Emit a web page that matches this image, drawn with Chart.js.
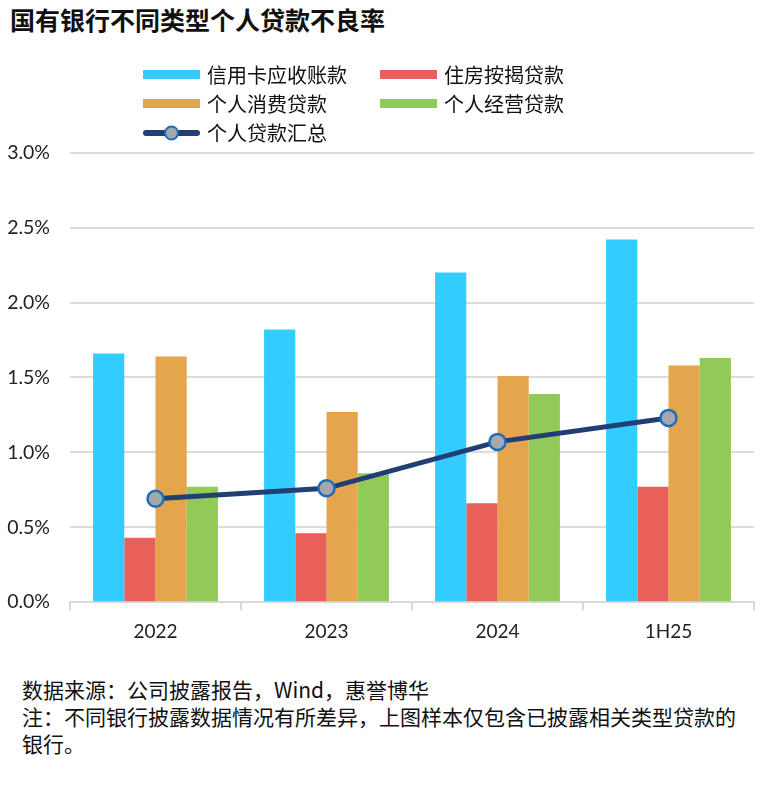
<!DOCTYPE html>
<html>
<head>
<meta charset="utf-8">
<script src="https://cdn.jsdelivr.net/npm/chart.js@4"></script>
<style>
  body { margin: 0; background: #fff; width: 780px; height: 795px; position: relative; overflow: hidden;
         font-family: "Noto Sans CJK SC", "Noto Sans", sans-serif; color: #111; }
  #title { position: absolute; left: 10px; top: 2px; font-size: 25px; font-weight: bold; line-height: 34px; }
  #legend { position: absolute; left: 143px; top: 60px; display: grid;
            grid-template-columns: 237px 220px; row-gap: 0; z-index: 2; }
  .item { display: flex; align-items: center; height: 29px; font-size: 20px; }
  .sw { width: 57px; height: 9px; margin-right: 7px; }
  #wrap { position: absolute; left: 0; top: 121px; width: 780px; height: 537px; }
  #note { position: absolute; left: 22px; top: 676px; font-size: 21px; line-height: 27px; color: #111; }
</style>
</head>
<body>
<div id="title">国有银行不同类型个人贷款不良率</div>
<div id="wrap"><canvas id="chart"></canvas></div>
<div id="legend"></div>
<div id="note">数据来源：公司披露报告，Wind，惠誉博华<br>注：不同银行披露数据情况有所差异，上图样本仅包含已披露相关类型贷款的<br>银行。</div>
<script>
const categories = ["2022", "2023", "2024", "1H25"];
const creditCard = [1.66, 1.82, 2.20, 2.42];
const mortgage = [0.43, 0.46, 0.66, 0.77];
const consumer = [1.64, 1.27, 1.51, 1.58];
const business = [0.77, 0.86, 1.39, 1.63];
const total = [0.69, 0.76, 1.07, 1.23];
const yTicks = [0, 0.5, 1.0, 1.5, 2.0, 2.5, 3.0];

const ctx = document.getElementById("chart");

Chart.defaults.color = "#222";
Chart.defaults.font.family = "Lato";

const chart = new Chart(ctx, {
  type: "bar",
  data: {
    labels: categories,
    datasets: [
      {
        type: "line",
        label: "个人贷款汇总",
        data: total,
        borderColor: "#223F75",
        backgroundColor: "#A4A8AD",
        borderWidth: 5,
        pointRadius: 8,
        pointBorderWidth: 2.5,
        pointBackgroundColor: "#A4A8AD",
        pointBorderColor: "#1C6DBA",
        tension: 0,
        order: 0,
      },
      { label: "信用卡应收账款", data: creditCard, backgroundColor: "#33CCFF", order: 1 },
      { label: "住房按揭贷款", data: mortgage, backgroundColor: "#E9605A", order: 1 },
      { label: "个人消费贷款", data: consumer, backgroundColor: "#E5A54C", order: 1 },
      { label: "个人经营贷款", data: business, backgroundColor: "#92CA5A", order: 1 },
    ],
  },
  options: {
    responsive: true,
    maintainAspectRatio: false,
    animation: false,
    categoryPercentage: 0.73,
    barPercentage: 1.0,
    layout: {
      padding: { top: 12, right: 26, bottom: 5, left: 0 },
    },
    plugins: {
      legend: { display: false },
      tooltip: { enabled: false },
    },
    scales: {
      x: {
        offset: true,
        grid: {
          offset: true,
          drawOnChartArea: false,
          drawTicks: true,
          tickLength: 8,
          color: "#d9d9d9",
          lineWidth: 2,
        },
        border: { color: "#d9d9d9", width: 2 },
        ticks: { padding: 10, font: { size: 19 } },
      },
      y: {
        min: 0,
        max: 3,
        afterFit: function(scale) { scale.width = 70; },
        afterBuildTicks: function(scale) { scale.ticks = yTicks.map(v => ({ value: v })); },
        grid: { color: "#dcdcdc", lineWidth: 2, drawTicks: false },
        border: { display: false },
        ticks: {
          padding: 20,
          font: { size: 19.5 },
          callback: function(v) { return v.toFixed(1) + "%"; },
        },
      },
    },
  },
});

// html legend in the two-column layout of the original
const legendOrder = [1, 2, 3, 4, 0];
const legendEl = document.getElementById("legend");
legendOrder.forEach(function(i) {
  const ds = chart.data.datasets[i];
  const item = document.createElement("div");
  item.className = "item";
  let sw;
  if (ds.type === "line") {
    sw = '<svg width="57" height="20" style="margin-right:7px"><line x1="3" y1="10" x2="54" y2="10" stroke="' +
      ds.borderColor + '" stroke-width="6" stroke-linecap="round"/><circle cx="28.5" cy="10" r="6.5" fill="' +
      ds.pointBackgroundColor + '" stroke="' + ds.pointBorderColor + '" stroke-width="2"/></svg>';
  } else {
    sw = '<div class="sw" style="background:' + ds.backgroundColor + '"></div>';
  }
  item.innerHTML = sw + "<span>" + ds.label + "</span>";
  legendEl.appendChild(item);
});
</script>
</body>
</html>
